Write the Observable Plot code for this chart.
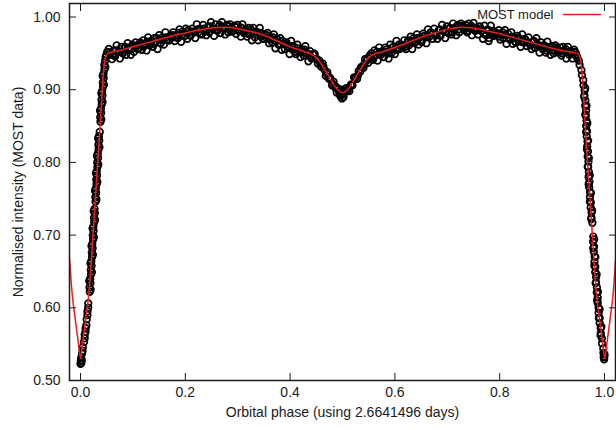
<!DOCTYPE html>
<html><head><meta charset="utf-8">
<script src="https://cdn.jsdelivr.net/npm/d3@7"></script>
<script src="https://cdn.jsdelivr.net/npm/@observablehq/plot@0.6"></script>
<style>
html,body{margin:0;padding:0;background:#fff;}
#chart{width:616px;height:430px;}
</style></head><body><div id="chart"></div>
<script>
const xTicks = [0, 0.2, 0.4, 0.6, 0.8, 1.0];
const yTicks = [0.5, 0.6, 0.7, 0.8, 0.9, 1.0];
const xLabel = "Orbital phase (using 2.6641496 days)";
const yLabel = "Normalised intensity (MOST data)";
const legendLabel = "MOST model";

// model light curve
const modelPhase = [-0.021,-0.020,-0.016,-0.012,-0.008,-0.004,0.000,0.004,0.008,0.012,0.016,0.020,0.024,0.028,0.032,0.036,0.040,0.044,0.047,0.050,0.052,
0.075,0.100,0.125,0.150,0.175,0.200,0.225,0.250,0.275,0.300,0.325,0.350,0.375,0.400,0.425,0.445,0.455,0.465,0.475,0.485,0.492,0.500,0.508,0.515,0.525,0.535,0.545,0.555,
0.575,0.600,0.625,0.650,0.675,0.700,0.725,0.750,0.775,0.800,0.825,0.850,0.875,0.900,0.925,0.948,
0.950,0.954,0.957,0.9606,0.9646,0.9686,0.9726,0.9766,0.9806,0.9846,0.9886,0.9926,0.9966,1.0006,1.0046,1.0086,1.0126,1.0166,1.021];
const modelFlux = [0.669,0.658,0.620,0.595,0.573,0.551,0.531,0.551,0.573,0.595,0.620,0.658,0.703,0.746,0.790,0.834,0.880,0.926,0.942,0.948,0.950,
0.954,0.959,0.964,0.969,0.974,0.978,0.982,0.985,0.986,0.984,0.980,0.975,0.967,0.959,0.953,0.947,0.940,0.929,0.917,0.905,0.899,0.896,0.899,0.905,0.917,0.929,0.940,0.947,
0.952,0.958,0.965,0.972,0.978,0.983,0.986,0.985,0.981,0.977,0.972,0.967,0.962,0.957,0.953,0.950,
0.949,0.942,0.926,0.885,0.834,0.790,0.746,0.703,0.658,0.620,0.595,0.573,0.551,0.531,0.551,0.573,0.595,0.620,0.665];

// MOST observations [phase, intensity]
const primaryIngress = [[0.0000,0.523],[0.0008,0.527],[0.0016,0.524],[0.0012,0.531],[0.0024,0.528],
[0.0030,0.537],[0.0040,0.541],[0.0044,0.546],
[0.0068,0.553],[0.0080,0.558],[0.0080,0.563],[0.0096,0.567],[0.0098,0.572],[0.0112,0.576],
[0.0118,0.584],[0.0132,0.590],[0.0133,0.595],[0.0146,0.600],[0.0148,0.606],
[0.0176,0.622],[0.0173,0.628],[0.0189,0.634],[0.0185,0.640],[0.0201,0.646],[0.0197,0.652],[0.0211,0.658],[0.0206,0.664],[0.0221,0.670],[0.0216,0.676],[0.0231,0.682],[0.0225,0.688],[0.0240,0.694],[0.0235,0.700],[0.0250,0.706],[0.0246,0.712],[0.0262,0.718],[0.0257,0.724],[0.0273,0.730],[0.0268,0.736],
[0.0287,0.746],[0.0283,0.752],[0.0297,0.758],[0.0292,0.764],[0.0306,0.770],[0.0301,0.776],[0.0315,0.782],[0.0310,0.788],[0.0324,0.794],[0.0319,0.800],[0.0335,0.806],[0.0330,0.812],[0.0346,0.818],[0.0341,0.824],[0.0357,0.830],[0.0351,0.836],[0.0367,0.842],
[0.0381,0.856],[0.0377,0.862],[0.0393,0.868],[0.0389,0.874],[0.0405,0.880],[0.0401,0.886],[0.0417,0.892],[0.0413,0.898],[0.0429,0.904],[0.0426,0.910],[0.0443,0.916],[0.0440,0.922],[0.0457,0.928],[0.0455,0.934],[0.0470,0.940],[0.0480,0.945],[0.0494,0.948],[0.0510,0.952]];

const ingressFill = [[0.0193,0.625],[0.0167,0.637],[0.0217,0.649],[0.0191,0.661],[0.0236,0.673],[0.0210,0.685],[0.0255,0.697],[0.0230,0.709],[0.0278,0.721],[0.0252,0.733],
[0.0303,0.749],[0.0277,0.761],[0.0321,0.773],[0.0294,0.785],[0.0339,0.797],[0.0314,0.809],[0.0361,0.821],[0.0336,0.833],
[0.0397,0.859],[0.0373,0.871],[0.0421,0.883],[0.0397,0.895],[0.0446,0.907],[0.0423,0.919],[0.0474,0.931]];

const outsideA = [[0.054,0.956],[0.057,0.948],[0.060,0.942],[0.063,0.954],[0.066,0.946],[0.069,0.961],[0.072,0.952],[0.075,0.943],[0.078,0.959],[0.081,0.950],[0.084,0.957],[0.087,0.948],[0.090,0.964],[0.093,0.956],[0.096,0.948],[0.099,0.962],
[0.102,0.952],[0.105,0.965],[0.108,0.961],[0.111,0.957],[0.114,0.965],[0.117,0.955],[0.120,0.968],[0.123,0.963],[0.126,0.954],[0.129,0.972],[0.132,0.961],[0.135,0.967],[0.138,0.959],[0.141,0.971],[0.144,0.966],[0.147,0.956],[0.150,0.975],[0.153,0.964],[0.156,0.972],[0.159,0.962],[0.162,0.979],[0.165,0.969],[0.168,0.968],[0.171,0.974],[0.174,0.972],[0.177,0.979],[0.180,0.967],[0.183,0.975],[0.186,0.971],[0.189,0.983],[0.192,0.966],[0.195,0.980],[0.198,0.974],[0.201,0.984],[0.204,0.970],[0.207,0.980],[0.210,0.974],[0.213,0.984],[0.216,0.980],[0.219,0.971],[0.222,0.990],[0.225,0.979],[0.228,0.984],[0.231,0.976],[0.234,0.989],[0.237,0.980],[0.240,0.975],[0.243,0.986],[0.246,0.979],[0.249,0.993]];

const outsideB = [[0.252,0.984],[0.255,0.974],[0.258,0.990],[0.261,0.981],[0.264,0.987],[0.267,0.978],[0.270,0.993],[0.273,0.984],[0.276,0.976],[0.279,0.989],[0.282,0.979],[0.285,0.990],[0.288,0.985],[0.291,0.981],[0.294,0.988],[0.297,0.977],[0.300,0.989],[0.303,0.982],[0.306,0.973],[0.309,0.990],[0.312,0.978],[0.315,0.983],[0.318,0.973],[0.321,0.985],[0.324,0.978],[0.327,0.968],[0.330,0.985],[0.333,0.972],[0.336,0.980],[0.339,0.968],[0.342,0.985],[0.345,0.973],[0.348,0.970],[0.351,0.976],[0.354,0.972],[0.357,0.978],[0.360,0.964],[0.363,0.971],[0.366,0.965],[0.369,0.976],[0.372,0.957],[0.375,0.970],[0.378,0.962],[0.381,0.971],[0.384,0.955],[0.387,0.964],[0.390,0.956],[0.393,0.965],[0.396,0.959],[0.399,0.949],[0.402,0.967],[0.405,0.955],[0.408,0.959],[0.411,0.949],[0.414,0.962],[0.417,0.952],[0.420,0.945],[0.423,0.955],[0.426,0.947],[0.429,0.960],[0.432,0.950],[0.435,0.939],[0.438,0.953],[0.441,0.943],[0.444,0.948]];

const secondary = [[0.447,0.949],[0.450,0.942],[0.453,0.936],[0.456,0.940],[0.459,0.932],[0.462,0.936],[0.465,0.928],[0.468,0.919],[0.471,0.924],[0.474,0.915],[0.477,0.915],[0.480,0.906],[0.483,0.911],[0.486,0.903],[0.489,0.896],[0.492,0.901],[0.495,0.894],[0.498,0.900],[0.501,0.896],[0.504,0.896],[0.507,0.902],[0.510,0.899],[0.513,0.898],[0.516,0.907],[0.519,0.906],[0.522,0.917],[0.525,0.916],[0.528,0.915],[0.531,0.926],[0.534,0.925],[0.537,0.931],[0.540,0.930],[0.543,0.942],[0.546,0.940],[0.549,0.937],[0.552,0.947],[0.496,0.891],[0.499,0.888],[0.502,0.890]];

const outsideC = [[0.555,0.950],[0.558,0.941],[0.561,0.954],[0.564,0.948],[0.567,0.940],[0.570,0.958],[0.573,0.948],[0.576,0.953],[0.579,0.945],[0.582,0.958],[0.585,0.952],[0.588,0.943],[0.591,0.962],[0.594,0.951],[0.597,0.959],[0.600,0.949],[0.603,0.967],[0.606,0.957],[0.609,0.956],[0.612,0.962],
[0.615,0.960],[0.618,0.968],[0.621,0.956],[0.624,0.965],[0.627,0.961],[0.630,0.973],[0.633,0.956],[0.636,0.971],[0.639,0.965],[0.642,0.976],[0.645,0.962],[0.648,0.972],[0.651,0.966],[0.654,0.977],[0.657,0.973],[0.660,0.964],[0.663,0.983],[0.666,0.973],[0.669,0.979],[0.672,0.970],
[0.675,0.984],[0.678,0.976],[0.681,0.970],[0.684,0.982],[0.687,0.974],[0.690,0.989],[0.693,0.981],[0.696,0.971],[0.699,0.987],[0.702,0.978],[0.705,0.985],[0.708,0.976],[0.711,0.991],[0.714,0.983],[0.717,0.975],[0.720,0.989],[0.723,0.979],[0.726,0.991],[0.729,0.986],[0.732,0.982],
[0.735,0.989],[0.738,0.979],[0.741,0.991],[0.744,0.984],[0.747,0.975],[0.750,0.992],[0.753,0.981],[0.756,0.985],[0.759,0.976],[0.762,0.987],[0.765,0.981],[0.768,0.970],[0.771,0.988],[0.774,0.975],[0.777,0.983],[0.780,0.971],[0.783,0.988],[0.786,0.976],[0.789,0.974],[0.792,0.979],
[0.795,0.976],[0.798,0.982],[0.801,0.969],[0.804,0.976],[0.807,0.971],[0.810,0.982],[0.813,0.963],[0.816,0.977],[0.819,0.969],[0.822,0.979],[0.825,0.963],[0.828,0.972],[0.831,0.965],[0.834,0.974],[0.837,0.969],[0.840,0.959],[0.843,0.976],[0.846,0.965],[0.849,0.969],[0.852,0.960],
[0.855,0.972],[0.858,0.962],[0.861,0.956],[0.864,0.966],[0.867,0.958],[0.870,0.971],[0.873,0.961],[0.876,0.951],[0.879,0.965],[0.882,0.956],[0.885,0.961],[0.888,0.951],[0.891,0.966],[0.894,0.956],[0.897,0.948],[0.900,0.960],[0.903,0.950],[0.906,0.961],[0.909,0.956],[0.912,0.951],
[0.915,0.958],[0.918,0.947],[0.921,0.959],[0.924,0.952],[0.927,0.943],[0.930,0.959],[0.933,0.948],[0.936,0.953],[0.939,0.943],[0.942,0.955],[0.945,0.948],[0.948,0.944],[0.779,0.967]];

// second, denser sampling of the out-of-eclipse band
const outsideFill = [[0.0555,0.951],[0.0615,0.948],[0.0675,0.954],[0.0735,0.952],[0.0795,0.951],[0.0855,0.959],[0.0915,0.957],[0.0975,0.956],[0.1035,0.960],[0.1095,0.956],
[0.1155,0.963],[0.1215,0.960],[0.1275,0.966],[0.1335,0.964],[0.1395,0.963],[0.1455,0.971],[0.1515,0.969],[0.1575,0.968],[0.1635,0.972],[0.1695,0.968],
[0.1755,0.975],[0.1815,0.972],[0.1875,0.978],[0.1935,0.976],[0.1995,0.974],[0.2055,0.982],[0.2115,0.980],[0.2175,0.979],[0.2235,0.983],[0.2295,0.977],
[0.2355,0.984],[0.2415,0.981],[0.2475,0.987],[0.2535,0.984],[0.2595,0.982],[0.2655,0.989],[0.2715,0.986],[0.2775,0.984],[0.2835,0.987],[0.2895,0.980],
[0.2955,0.986],[0.3015,0.981],[0.3075,0.985],[0.3135,0.981],[0.3195,0.977],[0.3255,0.983],[0.3315,0.979],[0.3375,0.976],[0.3435,0.978],[0.3495,0.970],
[0.3555,0.975],[0.3615,0.969],[0.3675,0.972],[0.3735,0.967],[0.3795,0.962],[0.3855,0.967],[0.3915,0.962],[0.3975,0.958],[0.4035,0.960],[0.4095,0.952],
[0.4155,0.957],[0.4215,0.951],[0.4275,0.955],[0.4335,0.950],[0.4395,0.945],[0.4455,0.950],
[0.4515,0.942],[0.4575,0.936],[0.4635,0.932],[0.4695,0.922],[0.4755,0.917],[0.4815,0.908],[0.4875,0.904],[0.4935,0.897],[0.4995,0.894],[0.5055,0.899],
[0.5115,0.902],[0.5175,0.907],[0.5235,0.916],[0.5295,0.920],[0.5355,0.931],[0.5415,0.935],[0.5475,0.943],[0.5535,0.945],
[0.5595,0.944],[0.5655,0.952],[0.5715,0.951],[0.5775,0.951],[0.5835,0.955],[0.5895,0.950],[0.5955,0.958],[0.6015,0.955],[0.6075,0.962],[0.6135,0.961],
[0.6195,0.959],[0.6255,0.968],[0.6315,0.967],[0.6375,0.966],[0.6435,0.971],[0.6495,0.967],[0.6555,0.974],[0.6615,0.972],[0.6675,0.978],[0.6735,0.977],
[0.6795,0.975],[0.6855,0.983],[0.6915,0.981],[0.6975,0.980],[0.7035,0.984],[0.7095,0.979],[0.7155,0.986],[0.7215,0.983],[0.7275,0.988],[0.7335,0.985],
[0.7395,0.981],[0.7455,0.988],[0.7515,0.985],[0.7575,0.982],[0.7635,0.984],[0.7695,0.977],[0.7755,0.982],[0.7815,0.977],[0.7875,0.981],[0.7935,0.977],
[0.7995,0.973],[0.8055,0.979],[0.8115,0.975],[0.8175,0.972],[0.8235,0.973],[0.8295,0.966],[0.8355,0.971],[0.8415,0.966],[0.8475,0.970],[0.8535,0.965],
[0.8595,0.961],[0.8655,0.967],[0.8715,0.963],[0.8775,0.960],[0.8835,0.961],[0.8895,0.954],[0.8955,0.959],[0.9015,0.954],[0.9075,0.958],[0.9135,0.954],
[0.9195,0.950],[0.9255,0.956],[0.9315,0.952],[0.9375,0.949],[0.9435,0.952]];

const primaryEgress = [[0.9450,0.951],[0.9470,0.946],[0.9510,0.940],[0.9525,0.934],[0.9560,0.927],[0.9570,0.920],[0.9595,0.913],[0.9598,0.906],[0.9621,0.899],[0.9617,0.892],[0.9635,0.885],[0.9632,0.878],[0.9648,0.871],[0.9643,0.864],[0.9658,0.857],[0.9651,0.850],[0.9666,0.843],[0.9661,0.836],[0.9675,0.829],[0.9670,0.822],[0.9684,0.815],[0.9679,0.808],[0.9694,0.801],[0.9688,0.794],[0.9702,0.787],[0.9697,0.780],[0.9712,0.773],[0.9708,0.766],[0.9725,0.759],[0.9722,0.752],[0.9739,0.745],[0.9736,0.738],[0.9753,0.731],[0.9751,0.724],[0.9768,0.717],
[0.9785,0.698],[0.9782,0.691],[0.9800,0.684],[0.9796,0.677],[0.9813,0.670],[0.9809,0.663],[0.9825,0.656],[0.9823,0.649],[0.9840,0.642],[0.9838,0.635],[0.9855,0.628],[0.9853,0.621],[0.9871,0.614],[0.9870,0.607],[0.9888,0.600],[0.9888,0.593],[0.9908,0.586],[0.9908,0.579],[0.9928,0.572],[0.9928,0.565],[0.9950,0.558],[0.9953,0.551],[0.9977,0.544],[0.9980,0.538],[0.9997,0.533],[0.9993,0.529],[0.9985,0.532],[1.0000,0.536]];

const egressFill = [[0.9632,0.902],[0.9613,0.890],[0.9655,0.878],[0.9634,0.866],[0.9672,0.854],[0.9650,0.842],[0.9687,0.830],[0.9665,0.818],[0.9701,0.806],[0.9680,0.794],
[0.9718,0.782],[0.9698,0.770],[0.9741,0.758],[0.9722,0.746],[0.9764,0.734],[0.9747,0.722],
[0.9803,0.694],[0.9785,0.682],[0.9826,0.670],[0.9807,0.658],[0.9850,0.646],[0.9831,0.634],[0.9875,0.622],[0.9860,0.610],[0.9906,0.598],[0.9893,0.586],[0.9940,0.574],[0.9927,0.562]];

const observations = [...primaryIngress, ...ingressFill, ...outsideA, ...outsideB, ...secondary, ...outsideC, ...outsideFill, ...primaryEgress, ...egressFill];
const model = modelPhase.map((p, i) => ({phase: p, flux: modelFlux[i]}));

const lineShape = {draw(context, l) { context.moveTo(0, 0); context.lineTo(0, -l); }};

const chart = Plot.plot({
  width: 616, height: 430,
  marginLeft: 69, marginRight: 1, marginTop: 3, marginBottom: 50,
  style: {fontFamily: "'Liberation Sans', Arial, Helvetica, sans-serif", fontSize: "14px", color: "#1a1a1a", background: "#fff", overflow: "visible"},
  x: {domain: [-0.021, 1.021]},
  y: {domain: [0.5, 1.0186]},
  marks: [
    Plot.dot(observations, {x: d => d[0], y: d => d[1], r: 3.3, stroke: "#000", strokeWidth: 1.7, fill: "none"}),
    Plot.line(model, {x: "phase", y: "flux", stroke: "#ee1c1c", strokeWidth: 1.5, curve: "monotone-x", clip: true}),
    Plot.frame({stroke: "#1a1a1a", strokeWidth: 1.5}),
    Plot.axisX({anchor: "bottom", ticks: xTicks, tickSize: -7, tickPadding: 14, tickFormat: d3.format(".1f"), label: null, fontSize: 14}),
    Plot.axisX({anchor: "top", ticks: xTicks, tickSize: -7, tickFormat: () => "", label: null}),
    Plot.axisY({anchor: "left", ticks: yTicks, tickSize: -7, tickPadding: 16, tickFormat: d3.format(".2f"), label: null, fontSize: 14}),
    Plot.axisY({anchor: "right", ticks: yTicks, tickSize: -7, tickFormat: () => "", label: null}),
    Plot.text([xLabel], {text: d => d, frameAnchor: "bottom", dy: 32, lineAnchor: "middle", textAnchor: "middle", fontSize: 14, fill: "#1a1a1a"}),
    Plot.text([yLabel], {text: d => d, frameAnchor: "left", dx: -51, rotate: -90, lineAnchor: "middle", textAnchor: "middle", fontSize: 14, fill: "#1a1a1a"}),
    Plot.vector([legendLabel], {frameAnchor: "top-right", dx: -15, dy: 11, rotate: 90, length: 37, anchor: "end", stroke: "#ee1c1c", strokeWidth: 1.5, shape: lineShape}),
    Plot.text([legendLabel], {text: d => d, frameAnchor: "top-right", dx: -62, dy: 11, textAnchor: "end", lineAnchor: "middle", fontSize: 13, fill: "#1a1a1a"})
  ]
});
document.getElementById("chart").appendChild(chart);
</script>
</body></html>
